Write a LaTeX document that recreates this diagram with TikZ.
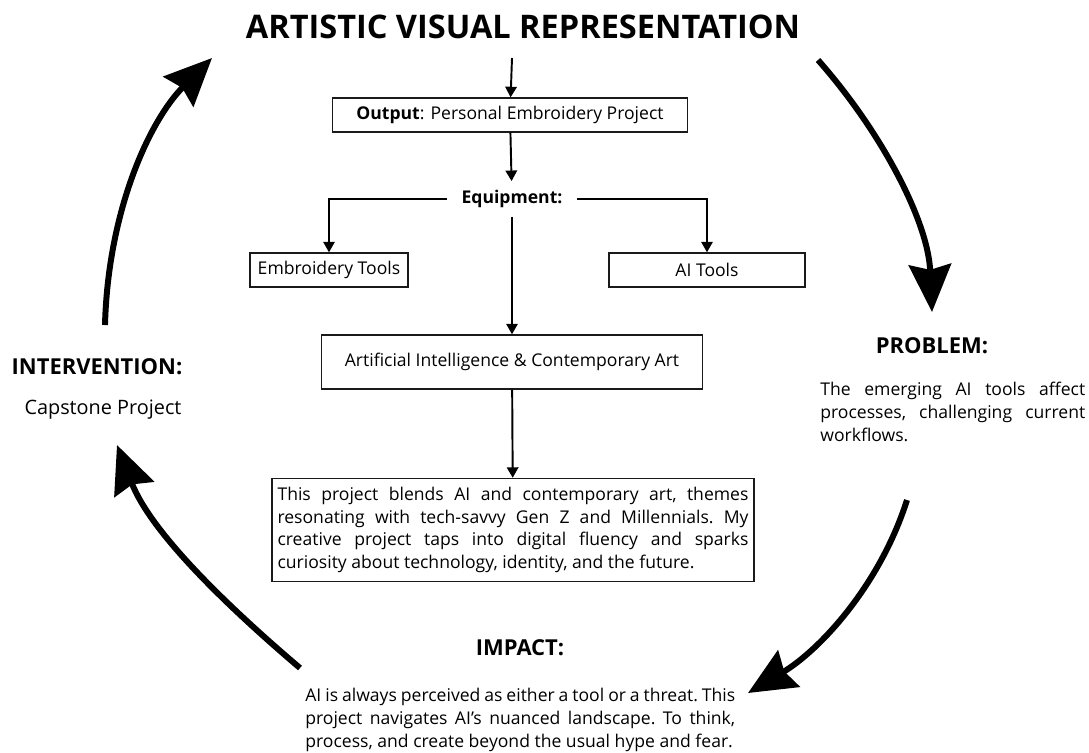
\documentclass[tikz,border=0pt]{standalone}
\usepackage{fontspec}
\setmainfont{Open Sans}
\usepackage{tikz}
\usetikzlibrary{arrows.meta,positioning}
\definecolor{inkline}{HTML}{1A1A1A}
\tikzset{
  boxnode/.style={
    rectangle, draw=inkline, line width=0.8pt,
    align=center, font=\fontsize{10}{13}\selectfont, inner sep=0pt
  },
  headnode/.style={font=\fontsize{12.5}{15}\selectfont\bfseries},
  bodytext/.style={font=\fontsize{10}{13}\selectfont\frenchspacing, align=justify, inner sep=0pt},
  flowarrow/.style={-{Triangle[length=6pt,width=6.5pt]}, line width=1.1pt, color=black},
  cyclearrow/.style={-{Stealth[length=27pt,width=24pt,inset=3pt]}, line width=3.4pt, color=black},
}
\begin{document}
\begin{tikzpicture}[x=0.02cm, y=-0.02cm]
  \useasboundingbox (0,0) rectangle (1089,752);
  \node[font=\fontsize{18.5}{22}\selectfont\bfseries] (title) at (523,27) {ARTISTIC VISUAL REPRESENTATION};
  \coordinate (start) at (512,58);
  \node[boxnode, minimum width=7.1cm, minimum height=0.68cm] (outp) at (510,115) {\textbf{Output}: Personal Embroidery Project};
  \node[font=\fontsize{10}{13}\selectfont\bfseries, inner xsep=8pt, inner ysep=5pt] (equip) at (512,199) {Equipment:};
  \node[boxnode, minimum width=3.16cm, minimum height=0.68cm] (embtools) at (329,270) {Embroidery Tools};
  \node[boxnode, minimum width=3.92cm, minimum height=0.68cm] (aitools) at (707,270) {AI Tools};
  \node[boxnode, minimum width=7.62cm, minimum height=1.08cm] (aiart) at (512,362) {Artificial Intelligence \& Contemporary Art};
  \node[boxnode, minimum width=9.64cm, minimum height=2.06cm] (blurb) at (513,530) {%
    \parbox{9.42cm}{\fontsize{10}{13}\selectfont\frenchspacing
    This project blends AI and contemporary art, themes\linebreak
    resonating with tech-savvy Gen Z and Millennials. My\linebreak
    creative project taps into digital fluency and sparks\linebreak
    curiosity about technology, identity, and the future.}};
  % cycle labels
  \node[headnode] (problem) at (932,346) {PROBLEM:};
  \node[bodytext, text width=5.3cm, anchor=north west] (probtext) at (820,382) {%
    The emerging AI tools affect\linebreak processes, challenging current\linebreak workflows.};
  \node[headnode] (impact) at (520,648) {IMPACT:};
  \node[bodytext, text width=8.6cm, anchor=north west] (imptext) at (305,688) {%
    AI is always perceived as either a tool or a threat. This\linebreak
    project navigates AI{\char"27}s nuanced landscape. To think,\linebreak
    process, and create beyond the usual hype and fear.};
  \node[headnode] (interv) at (97,367) {INTERVENTION:};
  \node[font=\fontsize{11.3}{14}\selectfont] (capstone) at (103,410) {Capstone Project};
  % flow arrows
  \draw[flowarrow] (start) -- (outp);
  \draw[flowarrow] (outp) -- (equip);
  \draw[flowarrow] (equip.west) -| (embtools);
  \draw[flowarrow] (equip.east) -| (aitools);
  \draw[flowarrow] (equip) -- (aiart);
  \draw[flowarrow] (aiart) -- (blurb);
  % cycle arrows
  \coordinate (trA) at (818,60);   \coordinate (trB) at (932,312);
  \coordinate (brA) at (907,500);  \coordinate (brB) at (748,693);
  \coordinate (blA) at (300,668);  \coordinate (blB) at (117,445);
  \coordinate (tlA) at (105,325);  \coordinate (tlB) at (212,58);
  \draw[cyclearrow] (trA) .. controls (880,130) and (928,220) .. (trB);
  \draw[cyclearrow] (brA) .. controls (880,585) and (820,650) .. (brB);
  \draw[cyclearrow] (blA) .. controls (220,600) and (150,530) .. (blB);
  \draw[cyclearrow] (tlA) .. controls (108,210) and (150,120) .. (tlB);
\end{tikzpicture}
\end{document}
